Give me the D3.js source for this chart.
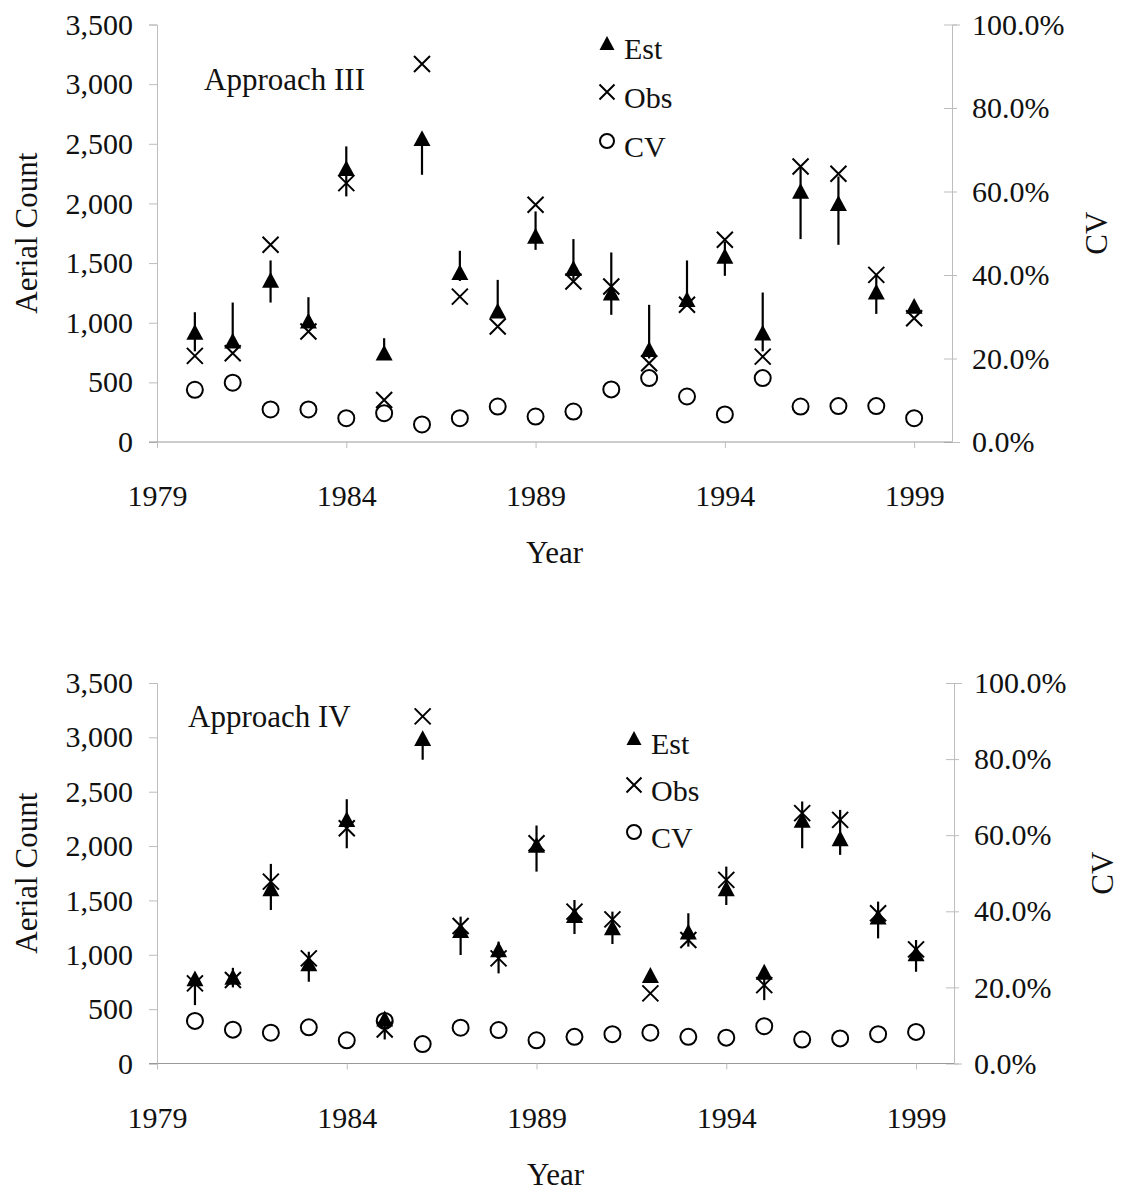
<!DOCTYPE html>
<html>
<head>
<meta charset="utf-8">
<script src="https://cdn.jsdelivr.net/npm/d3@7"></script>
<style>
  html, body { margin: 0; padding: 0; background: #fff; }
  svg { display: block; }
  text { font-family: "Liberation Serif", "Times New Roman", serif; fill: #111; }
</style>
</head>
<body>
<svg id="chart" width="1121" height="1196"></svg>
<script>
// ---------- data ----------
const years = [1980,1981,1982,1983,1984,1985,1986,1987,1988,1989,1990,1991,1992,1993,1994,1995,1996,1997,1998,1999];
const xTickYears = [1979,1984,1989,1994,1999];
const countTicks = [0,500,1000,1500,2000,2500,3000,3500];
const cvTicks = [0,20,40,60,80,100];
const legendLabels = ["Est","Obs","CV"];

// Approach III
const est3 = [923,850,1359,1018,2296,750,2548,1424,1102,1729,1457,1253,778,1197,1561,917,2106,2003,1261,1141];
const obs3 = [722,744,1653,926,2170,352,3169,1219,968,1989,1345,1303,660,1150,1695,716,2310,2249,1401,1038];
const lo3  = [760,820,1169,960,2059,750,2240,1350,1050,1611,1360,1066,700,1150,1393,760,1701,1653,1074,1141];
const hi3  = [1088,1169,1522,1214,2478,870,2548,1603,1359,1933,1701,1589,1150,1522,1680,1253,2300,2226,1400,1141];
const cv3  = [12.5,14.2,7.8,7.8,5.7,6.9,4.2,5.7,8.5,6.1,7.3,12.6,15.3,10.9,6.6,15.3,8.5,8.6,8.6,5.7];

// Approach IV
const est4 = [783,798,1612,921,2247,414,2993,1228,1050,2011,1366,1253,814,1213,1612,844,2241,2072,1351,1013];
const obs4 = [737,768,1673,967,2164,313,3193,1265,967,2026,1397,1326,645,1136,1689,721,2303,2241,1382,1050];
const lo4  = [537,700,1412,752,1980,221,2794,998,829,1765,1191,1099,814,1075,1458,583,1980,1919,1151,844];
const hi4  = [783,880,1836,1028,2431,414,2993,1351,1121,2189,1504,1397,814,1382,1811,844,2410,2333,1489,1136];
const cv4  = [11.2,8.9,8.1,9.5,6.1,11.2,5.1,9.4,8.8,6.1,7.0,7.7,8.1,7.0,6.8,9.8,6.3,6.6,7.7,8.3];

// ---------- layout ----------
const panels = [
  { title: "Approach III", est: est3, obs: obs3, lo: lo3, hi: hi3, cv: cv3,
    x0: 157, x1: 952, y0: 442, y1: 24.5, titleX: 204, titleY: 90,
    legX: 607, legY: 43, legStep: 49, cvTitleX: 1107 },
  { title: "Approach IV", est: est4, obs: obs4, lo: lo4, hi: hi4, cv: cv4,
    x0: 157, x1: 954, y0: 1063.5, y1: 683, titleX: 188, titleY: 727,
    legX: 634, legY: 738, legStep: 47, cvTitleX: 1113 }
];

const svg = d3.select("#chart");
svg.append("rect").attr("width",1121).attr("height",1196).attr("fill","#fff");

const TICK_FS = 30, TITLE_FS = 31;
const axisColor = "#bdbdbd";

function triPath(cx, cy, s) {
  const h = s * 0.93;
  return `M${cx},${cy - h/2} L${cx + s/2},${cy + h/2} L${cx - s/2},${cy + h/2} Z`;
}
function xPath(cx, cy, s) {
  const r = s/2;
  return `M${cx-r},${cy-r} L${cx+r},${cy+r} M${cx-r},${cy+r} L${cx+r},${cy-r}`;
}

panels.forEach(p => {
  const g = svg.append("g");
  const x = d3.scaleLinear().domain([1979, 2000]).range([p.x0, p.x1]);
  const y = d3.scaleLinear().domain([0, 3500]).range([p.y0, p.y1]);
  const yc = d3.scaleLinear().domain([0, 100]).range([p.y0, p.y1]);

  // left axis
  const la = g.append("g").attr("transform", `translate(${p.x0},0)`)
    .call(d3.axisLeft(y).tickValues(countTicks).tickSize(8).tickPadding(16)
      .tickFormat(d3.format(",")));
  // right axis
  const ra = g.append("g").attr("transform", `translate(${p.x1},0)`)
    .call(d3.axisRight(yc).tickValues(cvTicks).tickSize(8).tickPadding(12)
      .tickFormat(d => d.toFixed(1) + "%"));
  // bottom axis
  const ba = g.append("g").attr("transform", `translate(0,${p.y0})`)
    .call(d3.axisBottom(x).tickValues(xTickYears).tickSize(6).tickPadding(37)
      .tickFormat(d3.format("d")));

  [la, ra, ba].forEach(a => {
    a.selectAll("path.domain").attr("stroke", axisColor).attr("stroke-width", 1);
    a.selectAll(".tick line").attr("stroke", axisColor).attr("stroke-width", 1);
    a.selectAll(".tick text").attr("font-size", TICK_FS)
      .attr("font-family", '"Liberation Serif", serif').attr("fill", "#111");
  });
  ra.selectAll(".tick line").attr("x1", -8).attr("x2", 5);
  ba.select("path.domain").attr("stroke", "#999").attr("d", `M${p.x0 - 8},0H${p.x1}`);

  // axis titles
  g.append("text").attr("transform", `translate(37,${(p.y0 + p.y1)/2}) rotate(-90)`)
    .attr("text-anchor", "middle").attr("font-size", TITLE_FS).text("Aerial Count");
  g.append("text").attr("transform", `translate(${p.cvTitleX},${(p.y0 + p.y1)/2}) rotate(-90)`)
    .attr("text-anchor", "middle").attr("font-size", TITLE_FS).text("CV");
  g.append("text").attr("x", (p.x0 + p.x1)/2).attr("y", p.y0 + 121)
    .attr("text-anchor", "middle").attr("font-size", TITLE_FS).text("Year");

  // panel title
  g.append("text").attr("x", p.titleX).attr("y", p.titleY)
    .attr("font-size", TITLE_FS).text(p.title);

  const idx = d3.range(years.length);

  // error lines
  g.append("g").selectAll("line").data(idx).join("line")
    .attr("x1", i => x(years[i])).attr("x2", i => x(years[i]))
    .attr("y1", i => y(p.lo[i])).attr("y2", i => y(p.hi[i]))
    .attr("stroke", "#000").attr("stroke-width", 2.2);

  // CV circles
  g.append("g").selectAll("circle").data(idx).join("circle")
    .attr("cx", i => x(years[i])).attr("cy", i => yc(p.cv[i])).attr("r", 8)
    .attr("fill", "none").attr("stroke", "#000").attr("stroke-width", 2);

  // Est triangles
  g.append("g").selectAll("path").data(idx).join("path")
    .attr("d", i => triPath(x(years[i]), y(p.est[i]), 17))
    .attr("fill", "#000");

  // Obs crosses
  g.append("g").selectAll("path").data(idx).join("path")
    .attr("d", i => xPath(x(years[i]), y(p.obs[i]), 16))
    .attr("stroke", "#000").attr("stroke-width", 2).attr("fill", "none");

  // legend
  const lg = g.append("g");
  legendLabels.forEach((lab, k) => {
    const cy = p.legY + k * p.legStep;
    if (k === 0) lg.append("path").attr("d", triPath(p.legX, cy, 15)).attr("fill", "#000");
    if (k === 1) lg.append("path").attr("d", xPath(p.legX, cy, 15))
      .attr("stroke", "#000").attr("stroke-width", 2).attr("fill", "none");
    if (k === 2) lg.append("circle").attr("cx", p.legX).attr("cy", cy).attr("r", 7)
      .attr("fill", "none").attr("stroke", "#000").attr("stroke-width", 2);
    lg.append("text").attr("x", p.legX + 17).attr("y", cy + 16)
      .attr("font-size", TICK_FS).text(lab);
  });
});
</script>
</body>
</html>
